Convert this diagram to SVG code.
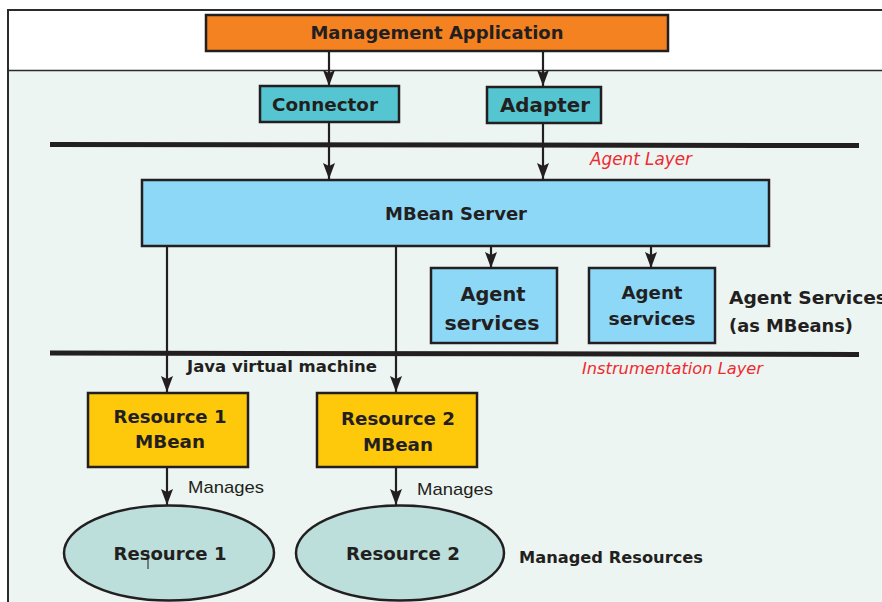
<svg xmlns="http://www.w3.org/2000/svg" width="882" height="602" viewBox="0 0 882 602">
<defs>
<style>
.box{stroke:#231F20;stroke-width:2.5}
.b{font-family:"DejaVu Sans",sans-serif;font-weight:bold;fill:#231F20;text-anchor:middle}
.bl{font-family:"DejaVu Sans",sans-serif;font-weight:bold;fill:#231F20}
.red{font-family:"DejaVu Sans",sans-serif;font-style:italic;fill:#EE2A2F}
.reg{font-family:"Liberation Sans",sans-serif;fill:#231F20}
.conn{stroke:#231F20;stroke-width:2.2;fill:none}
.bar{stroke:#231F20;stroke-width:5;fill:none}
</style>
<marker id="ah" viewBox="0 0 16 12" markerWidth="16" markerHeight="12" refX="16" refY="6" orient="auto" markerUnits="userSpaceOnUse">
<path d="M0,0 L16,6 L0,12 L3,6 z" fill="#231F20"/>
</marker>
</defs>
<rect x="0" y="0" width="882" height="602" fill="#FFFFFF"/>
<rect x="8" y="70.5" width="874" height="532" fill="#ECF5F2"/>
<g id="frame" fill="none" stroke="#2B2B2B">
<path d="M8,602 L8,10 L882,10" stroke-width="2"/>
<line x1="8" y1="70.5" x2="882" y2="70.5" stroke-width="1.5"/>
</g>
<g id="layers">
<line class="bar" x1="50" y1="144.5" x2="859" y2="145.5"/>
<line class="bar" x1="50" y1="353" x2="859" y2="354.5"/>
<text class="red" x="590" y="165" font-size="17" textLength="102" lengthAdjust="spacingAndGlyphs">Agent Layer</text>
<text class="red" x="582" y="374" font-size="16.5" textLength="181" lengthAdjust="spacingAndGlyphs">Instrumentation Layer</text>
<text class="bl" x="187" y="372" font-size="15" textLength="190" lengthAdjust="spacingAndGlyphs">Java virtual machine</text>
<text class="bl" x="729" y="304" font-size="17.5" textLength="158" lengthAdjust="spacingAndGlyphs">Agent Services</text>
<text class="bl" x="729" y="332" font-size="17.5" textLength="124" lengthAdjust="spacingAndGlyphs">(as MBeans)</text>
<text class="bl" x="519" y="563" font-size="15.5" textLength="184" lengthAdjust="spacingAndGlyphs">Managed Resources</text>
</g>
<g id="connectors">
<line class="conn" x1="329" y1="51" x2="329" y2="86" marker-end="url(#ah)"/>
<line class="conn" x1="543" y1="51" x2="543" y2="86" marker-end="url(#ah)"/>
<line class="conn" x1="329" y1="122" x2="329" y2="179" marker-end="url(#ah)"/>
<line class="conn" x1="543" y1="122" x2="543" y2="179" marker-end="url(#ah)"/>
<line class="conn" x1="491" y1="247" x2="491" y2="268" marker-end="url(#ah)"/>
<line class="conn" x1="651" y1="247" x2="651" y2="268" marker-end="url(#ah)"/>
<line class="conn" x1="167" y1="247" x2="167" y2="392" marker-end="url(#ah)"/>
<line class="conn" x1="396" y1="247" x2="396" y2="392" marker-end="url(#ah)"/>
<line class="conn" x1="167" y1="467" x2="167" y2="505" marker-end="url(#ah)"/>
<line class="conn" x1="396" y1="467" x2="396" y2="505" marker-end="url(#ah)"/>
<text class="reg" x="188" y="493" font-size="17" textLength="76" lengthAdjust="spacingAndGlyphs">Manages</text>
<text class="reg" x="417" y="495" font-size="17" textLength="76" lengthAdjust="spacingAndGlyphs">Manages</text>
</g>
<g id="management-application">
<rect class="box" x="206" y="15" width="462" height="36" fill="#F58220"/>
<text class="b" x="437" y="39" font-size="18" textLength="253" lengthAdjust="spacingAndGlyphs">Management Application</text>
</g>
<g id="connector">
<rect class="box" x="260" y="86" width="139" height="36" fill="#55C6D1"/>
<text class="b" x="325" y="111" font-size="18" textLength="106" lengthAdjust="spacingAndGlyphs">Connector</text>
</g>
<g id="adapter">
<rect class="box" x="487" y="87" width="114" height="36" fill="#55C6D1"/>
<text class="b" x="545" y="112" font-size="19" textLength="90" lengthAdjust="spacingAndGlyphs">Adapter</text>
</g>
<g id="mbean-server">
<rect class="box" x="142" y="180" width="627" height="66" fill="#8DD8F7"/>
<text class="b" x="456" y="220" font-size="18" textLength="142" lengthAdjust="spacingAndGlyphs">MBean Server</text>
</g>
<g id="agent-services-1">
<rect class="box" x="431" y="268" width="126" height="75" fill="#8DD8F7"/>
<text class="b" x="493" y="301" font-size="19.5" textLength="65" lengthAdjust="spacingAndGlyphs">Agent</text>
<text class="b" x="492" y="330" font-size="19.5" textLength="95" lengthAdjust="spacingAndGlyphs">services</text>
</g>
<g id="agent-services-2">
<rect class="box" x="589" y="268" width="126" height="75" fill="#8DD8F7"/>
<text class="b" x="652" y="299" font-size="18" textLength="61" lengthAdjust="spacingAndGlyphs">Agent</text>
<text class="b" x="652" y="325" font-size="18.5" textLength="87" lengthAdjust="spacingAndGlyphs">services</text>
</g>
<g id="resource1-mbean">
<rect class="box" x="88" y="393" width="160" height="74" fill="#FFC90B"/>
<text class="b" x="170" y="423" font-size="17" textLength="113" lengthAdjust="spacingAndGlyphs">Resource 1</text>
<text class="b" x="170" y="448" font-size="17.5" textLength="70" lengthAdjust="spacingAndGlyphs">MBean</text>
</g>
<g id="resource2-mbean">
<rect class="box" x="317" y="393" width="160" height="74" fill="#FFC90B"/>
<text class="b" x="398" y="425" font-size="17" textLength="114" lengthAdjust="spacingAndGlyphs">Resource 2</text>
<text class="b" x="398" y="451" font-size="17.5" textLength="70" lengthAdjust="spacingAndGlyphs">MBean</text>
</g>
<g id="resource1">
<ellipse class="box" cx="169" cy="553" rx="105" ry="47.5" fill="#BCDFDC"/>
<text class="b" x="170" y="560" font-size="17" textLength="113" lengthAdjust="spacingAndGlyphs">Resource 1</text>
<line x1="148" y1="552" x2="148" y2="569" stroke="#231F20" stroke-width="1"/>
</g>
<g id="resource2">
<ellipse class="box" cx="400" cy="553" rx="104" ry="47.5" fill="#BCDFDC"/>
<text class="b" x="403" y="560" font-size="17" textLength="114" lengthAdjust="spacingAndGlyphs">Resource 2</text>
</g>
</svg>
